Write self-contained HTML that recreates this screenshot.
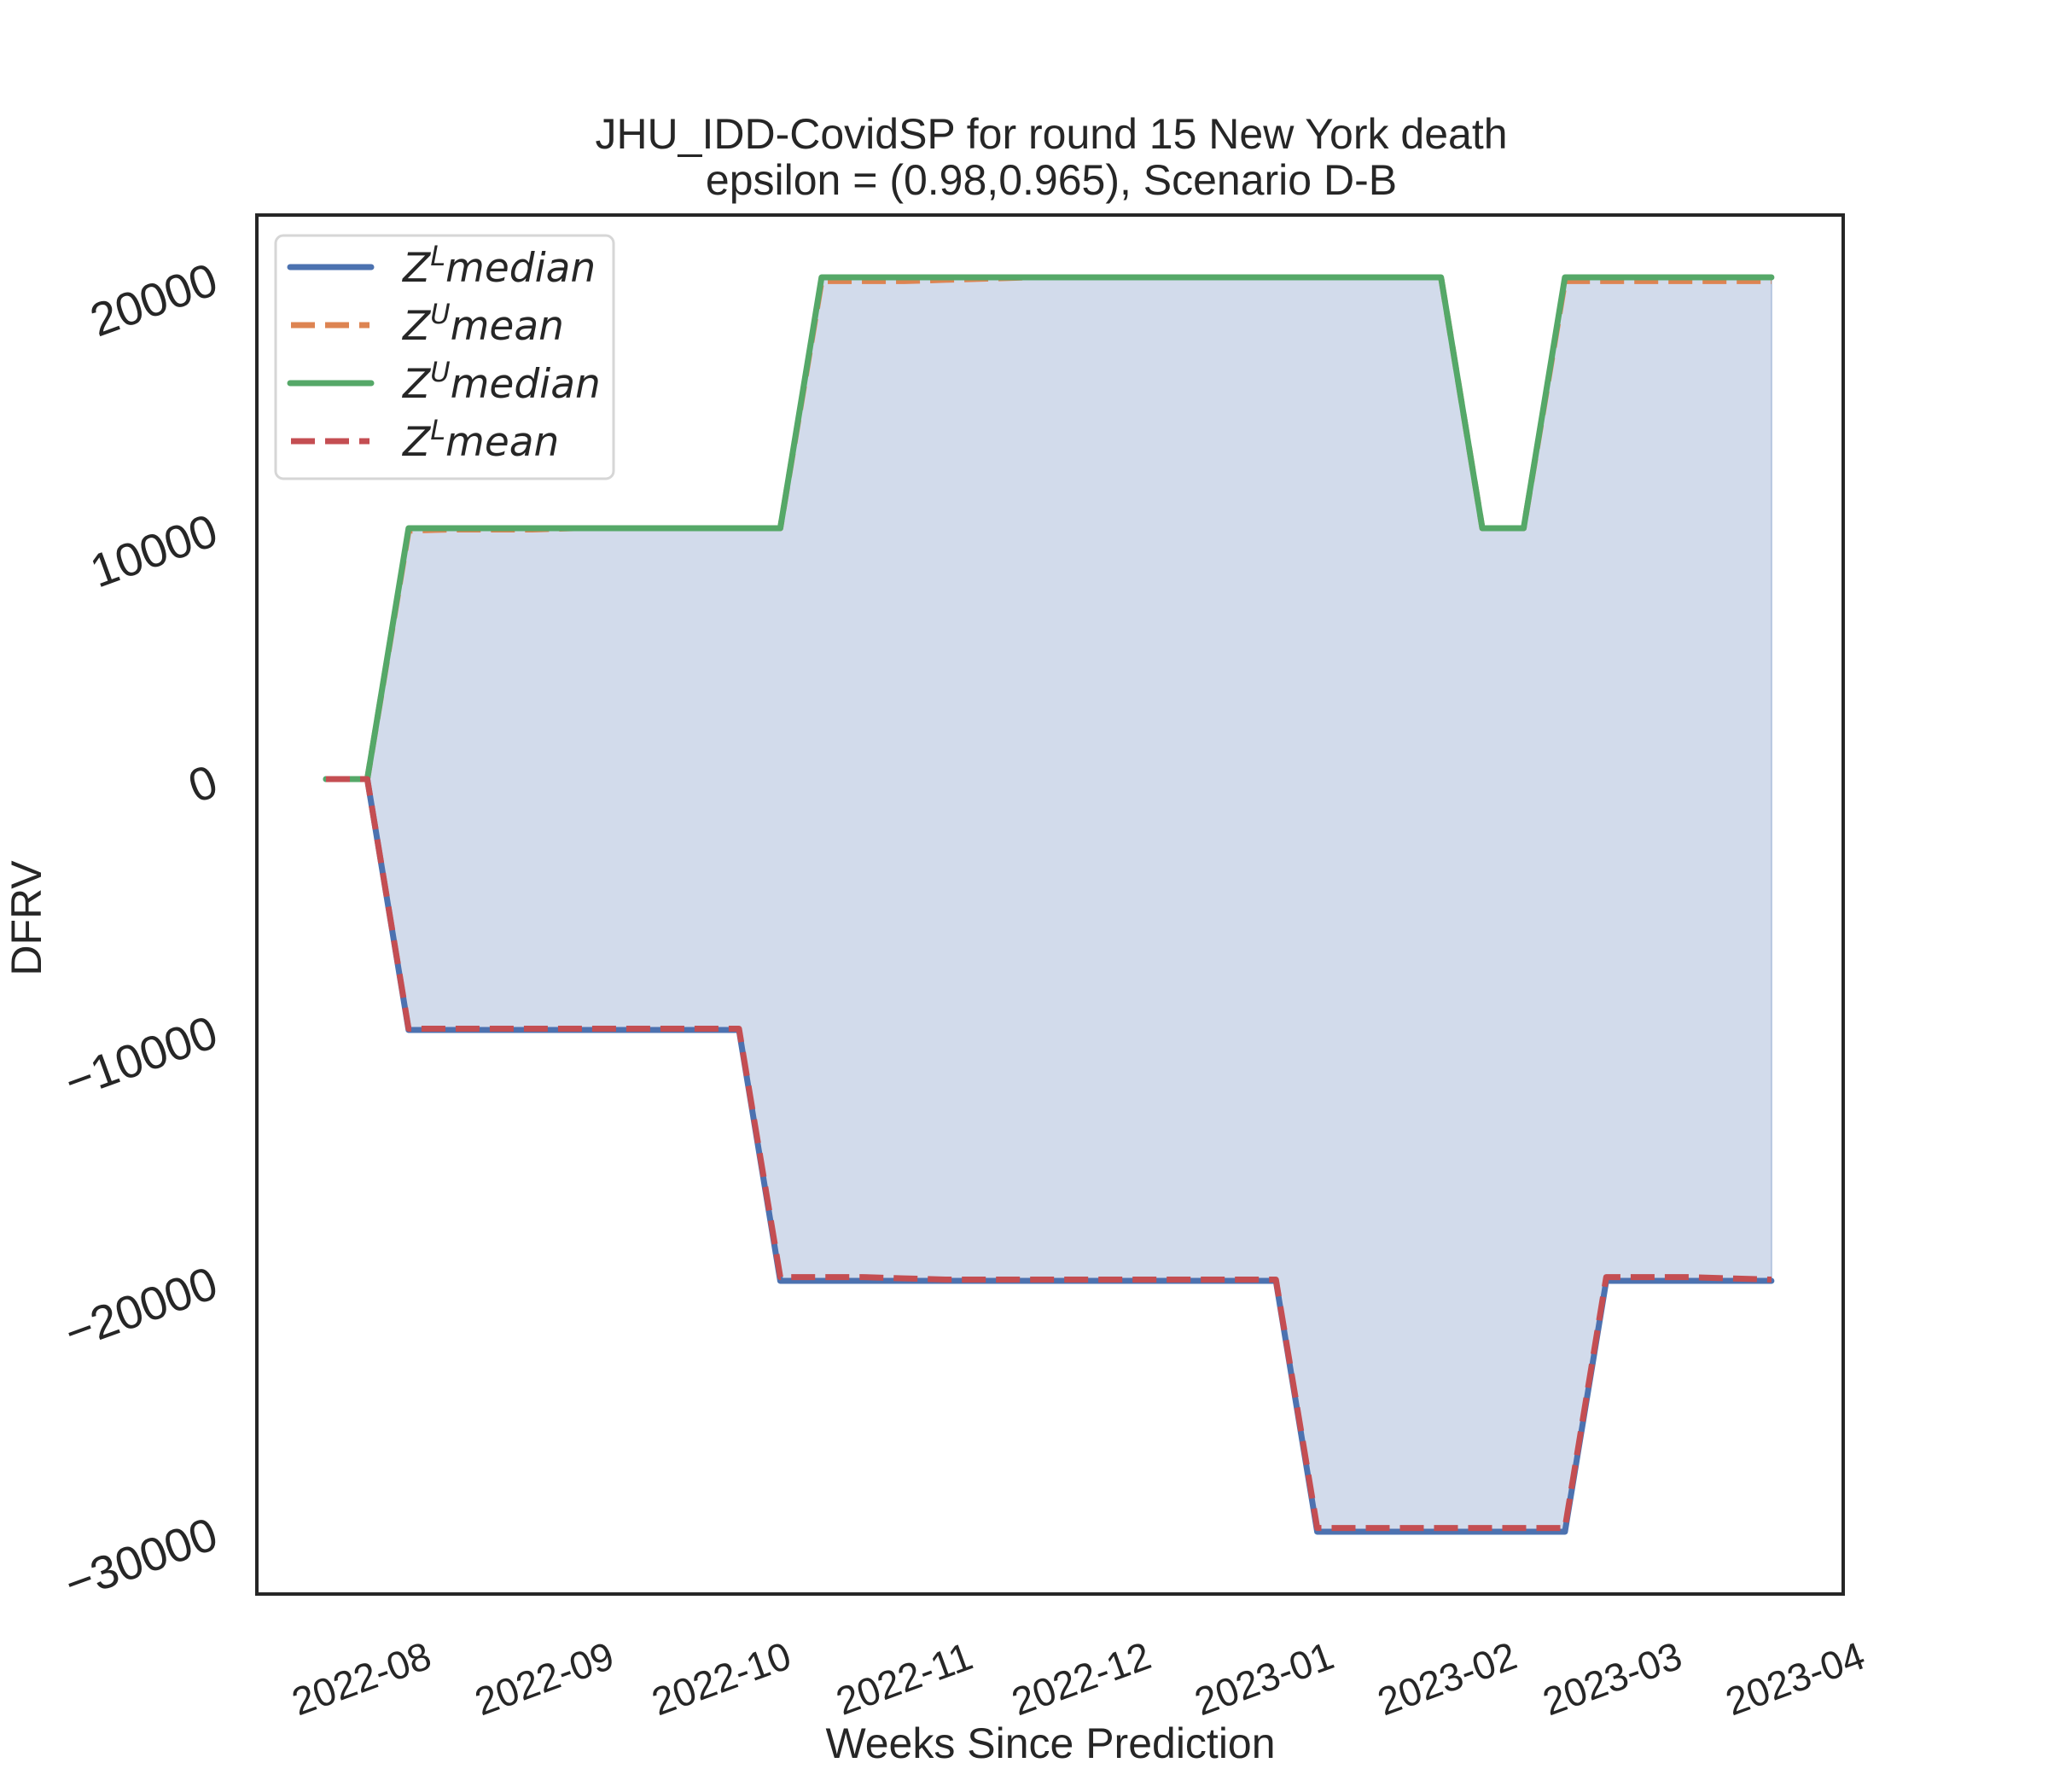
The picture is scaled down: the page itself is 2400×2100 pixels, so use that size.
<!DOCTYPE html>
<html><head><meta charset="utf-8"><style>
html,body{margin:0;padding:0;background:#fff;}
svg{display:block;font-family:"Liberation Sans",Arial,sans-serif;}
</style></head><body>
<svg id="chart" width="2400" height="2100" viewBox="0 0 2400 2100">
<rect x="0" y="0" width="2400" height="2100" fill="#fff"/>
<g id="plot"></g>
<rect x="301" y="252" width="1859" height="1616" fill="none" stroke="#262626" stroke-width="4"/>
<g id="ticks"></g>
<text x="1232" y="174" font-size="50" fill="#262626" text-anchor="middle">JHU_IDD-CovidSP for round 15 New York  death</text>
<text x="1232" y="228" font-size="50" fill="#262626" text-anchor="middle">epsilon = (0.98,0.965), Scenario D-B</text>
<text x="1231" y="2060" font-size="50" fill="#262626" text-anchor="middle">Weeks Since Prediction</text>
<text x="0" y="0" font-size="50" fill="#262626" text-anchor="middle" transform="translate(48,1076) rotate(-90)">DFRV</text>
<g>
<rect x="323" y="276" width="396" height="285" rx="9" fill="#fff" fill-opacity="0.8" stroke="#d6d6d6" stroke-width="3"/>
<line x1="340" y1="313" x2="435" y2="313" stroke="#4c72b0" stroke-width="7" stroke-linecap="round"/>
<line x1="341" y1="381" x2="433" y2="381" stroke="#dd8452" stroke-width="7" stroke-dasharray="28,12"/>
<line x1="340" y1="449" x2="435" y2="449" stroke="#55a868" stroke-width="7" stroke-linecap="round"/>
<line x1="341" y1="517" x2="433" y2="517" stroke="#c44e52" stroke-width="7" stroke-dasharray="28,12"/>
<g font-family="'DejaVu Sans',sans-serif" font-style="italic" font-size="47" fill="#262626">
<text x="472" y="330">Z<tspan dy="-19" font-size="32">L</tspan><tspan dy="19">median</tspan></text>
<text x="472" y="398">Z<tspan dy="-19" font-size="32">U</tspan><tspan dy="19">mean</tspan></text>
<text x="472" y="466">Z<tspan dy="-19" font-size="32">U</tspan><tspan dy="19">median</tspan></text>
<text x="472" y="534">Z<tspan dy="-19" font-size="32">L</tspan><tspan dy="19">mean</tspan></text>
</g>
</g>
</svg>
<script>
const weeks = [0,1,2,3,4,5,6,7,8,9,10,11,12,13,14,15,16,17,18,19,20,21,22,23,24,25,26,27,28,29,30,31,32,33,34,35];
const zlMedian = [0,0,-10000,-10000,-10000,-10000,-10000,-10000,-10000,-10000,-10000,-20000,-20000,-20000,-20000,-20000,-20000,-20000,-20000,-20000,-20000,-20000,-20000,-20000,-30000,-30000,-30000,-30000,-30000,-30000,-30000,-20000,-20000,-20000,-20000,-20000];
const zlMean = [0,0,-9950,-9950,-9950,-9950,-9950,-9950,-9950,-9950,-9950,-19850,-19850,-19850,-19900,-19950,-19950,-19950,-19950,-19950,-19950,-19950,-19950,-19950,-29850,-29850,-29850,-29850,-29850,-29850,-29850,-19850,-19850,-19850,-19900,-19950];
const zuMedian = [0,0,10000,10000,10000,10000,10000,10000,10000,10000,10000,10000,20000,20000,20000,20000,20000,20000,20000,20000,20000,20000,20000,20000,20000,20000,20000,20000,10000,10000,20000,20000,20000,20000,20000,20000];
const zuMean = [0,0,9900,9950,9950,9950,10000,10000,10000,10000,10000,10000,19850,19850,19850,19900,19950,20000,20000,20000,20000,20000,20000,20000,20000,20000,20000,20000,10000,10000,19850,19850,19850,19850,19850,19850];
const yTickValues = [20000,10000,0,-10000,-20000,-30000];
const yTickLabels = ["20000","10000","0","\u221210000","\u221220000","\u221230000"];
const xTickLabels = ["2022-08","2022-09","2022-10","2022-11","2022-12","2023-01","2023-02","2023-03","2023-04"];
const startDate = "2022-07-26";

const NS = "http://www.w3.org/2000/svg";
const DAY_PX = 6.914, X0 = 382;
const t0 = Date.parse(startDate + "T00:00:00Z");
function xDate(s){ return X0 + (Date.parse(s + "-01T00:00:00Z") - t0) / 86400000 * DAY_PX; }
function xWeek(w){ return X0 + w * 7 * DAY_PX; }
function yVal(v){ return 913 - v * 0.0294; }
function pts(arr){ return weeks.map((w,i)=>xWeek(w).toFixed(1)+","+yVal(arr[i]).toFixed(1)).join(" "); }

const plot = document.getElementById("plot");
const fillPts = weeks.map((w,i)=>xWeek(w).toFixed(1)+","+yVal(zuMedian[i]).toFixed(1))
  .concat(weeks.slice().reverse().map((w,j)=>{const i=weeks.length-1-j;return xWeek(w).toFixed(1)+","+yVal(zlMedian[i]).toFixed(1);})).join(" ");
const fill = document.createElementNS(NS,"polygon");
fill.setAttribute("points", fillPts);
fill.setAttribute("fill","#d2dbeb");
fill.setAttribute("stroke","#b6c6e0");
fill.setAttribute("stroke-width","2");


plot.appendChild(fill);

function addLine(arr, color, dashed, name){
  const p = document.createElementNS(NS,"polyline");
  p.setAttribute("points", pts(arr));
  p.setAttribute("fill","none");
  p.setAttribute("stroke", color);
  p.setAttribute("stroke-width","7");
  p.setAttribute("stroke-linejoin","round");
  if (dashed) { p.setAttribute("stroke-dasharray","28,12"); } else { p.setAttribute("stroke-linecap","round"); }
  
  
  plot.appendChild(p);
}
addLine(zlMedian, "#4c72b0", false, "line-zl-median");
addLine(zuMean, "#dd8452", true, "line-zu-mean");
addLine(zuMedian, "#55a868", false, "line-zu-median");
addLine(zlMean, "#c44e52", true, "line-zl-mean");

const ticks = document.getElementById("ticks");
yTickValues.forEach((v,i)=>{
  const y = yVal(v);
  const t = document.createElementNS(NS,"text");
  t.setAttribute("x","252");
  t.setAttribute("y", y.toFixed(1));
  t.setAttribute("text-anchor","end");
  t.setAttribute("dominant-baseline","central");
  t.setAttribute("font-size","55");
  t.setAttribute("fill","#262626");
  t.setAttribute("transform","rotate(-20 252 "+y.toFixed(1)+")");
  t.textContent = yTickLabels[i];
  
  
  ticks.appendChild(t);
});
xTickLabels.forEach((lab)=>{
  const x = xDate(lab);
  const t = document.createElementNS(NS,"text");
  t.setAttribute("x", x.toFixed(1));
  t.setAttribute("y","1967");
  t.setAttribute("text-anchor","middle");
  t.setAttribute("dominant-baseline","central");
  t.setAttribute("font-size","46");
  t.setAttribute("fill","#262626");
  t.setAttribute("transform","rotate(-20 "+x.toFixed(1)+" 1967)");
  t.textContent = lab;
  
  
  ticks.appendChild(t);
});
</script>
</body></html>
